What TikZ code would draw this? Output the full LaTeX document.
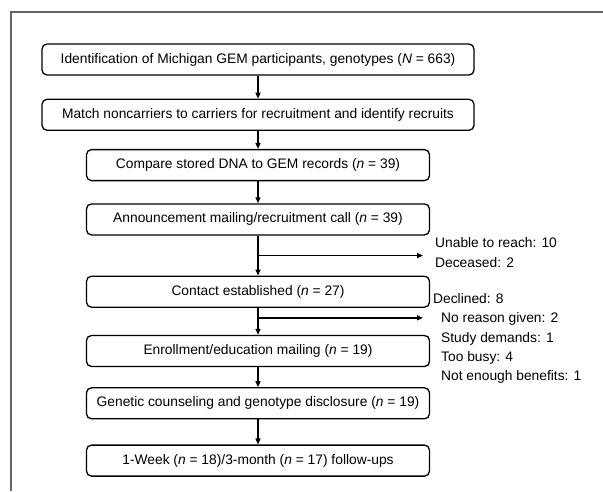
\documentclass[tikz,border=0pt]{standalone}
\usepackage{fontspec}
\setmainfont{Liberation Sans}
\usetikzlibrary{positioning, arrows.meta, calc}

\begin{document}
\begin{tikzpicture}[x=1pt, y=-1pt,
		box/.style={draw, rounded corners=5pt, line width=1.3pt, minimum height=31pt, inner sep=2pt, font=\fontsize{13.8}{15}\selectfont},
		wide/.style={box, minimum width=432pt},
		narrow/.style={box, minimum width=343pt},
		arr/.style={line width=1.4pt, -{Triangle[length=6pt, width=5pt]}},
		side/.style={inner sep=0pt, align=left, anchor=west, font=\fontsize{13.8}{19.2}\selectfont}]
	\useasboundingbox (0,0) rectangle (603,491);
	\draw[line width=2pt, black!60] (11,491) -- (11,12) -- (603,12);

		\node[wide] (ident) at (258,59.5) {Identification of Michigan GEM participants, genotypes (\textit{N} = 663)};
		\node[wide, below=23pt of ident] (match) {Match noncarriers to carriers for recruitment and identify recruits};
		\node[narrow, below=18pt of match] (compare) {Compare stored DNA to GEM records (\textit{n} = 39)};
		\node[narrow, below=22pt of compare] (announce) {Announcement mailing/recruitment call (\textit{n} = 39)};
		\node[narrow, below=40pt of announce] (contact) {Contact established (\textit{n} = 27)};
		\node[narrow, below=27pt of contact] (enroll) {Enrollment/education mailing (\textit{n} = 19)};
		\node[narrow, below=20pt of enroll] (disclose) {Genetic counseling and genotype disclosure (\textit{n} = 19)};
		\node[narrow, below=25pt of disclose] (follow) {1-Week (\textit{n} = 18)/3-month (\textit{n} = 17) follow-ups};

		\node[side] (unreach) at (435,252.5) {Unable to reach: 10\\Deceased: 2};
		\node[side] (declined) at (433,338.5) {Declined: 8\\
			\hspace*{8pt}No reason given: 2\\
			\hspace*{8pt}Study demands: 1\\
			\hspace*{8pt}Too busy: 4\\
			\hspace*{8pt}Not enough benefits: 1};

		\coordinate (split1) at ($(announce.south)!0.5!(contact.north)$);
		\coordinate (split2) at ($(contact.south)!0.37!(enroll.north)$);

		\draw[arr] (ident) -- (match);
		\draw[arr] (match) -- (compare);
		\draw[arr] (compare) -- (announce);
		\draw[arr] (announce) -- (contact);
		\draw[arr] (contact) -- (enroll);
		\draw[arr] (enroll) -- (disclose);
		\draw[arr] (disclose) -- (follow);
		\draw[arr] (split1) -- ([xshift=-12pt]split1 -| unreach.west);
		\draw[arr] (split2) -- ([xshift=-10pt]split2 -| declined.west);
	\end{tikzpicture}
\end{document}
